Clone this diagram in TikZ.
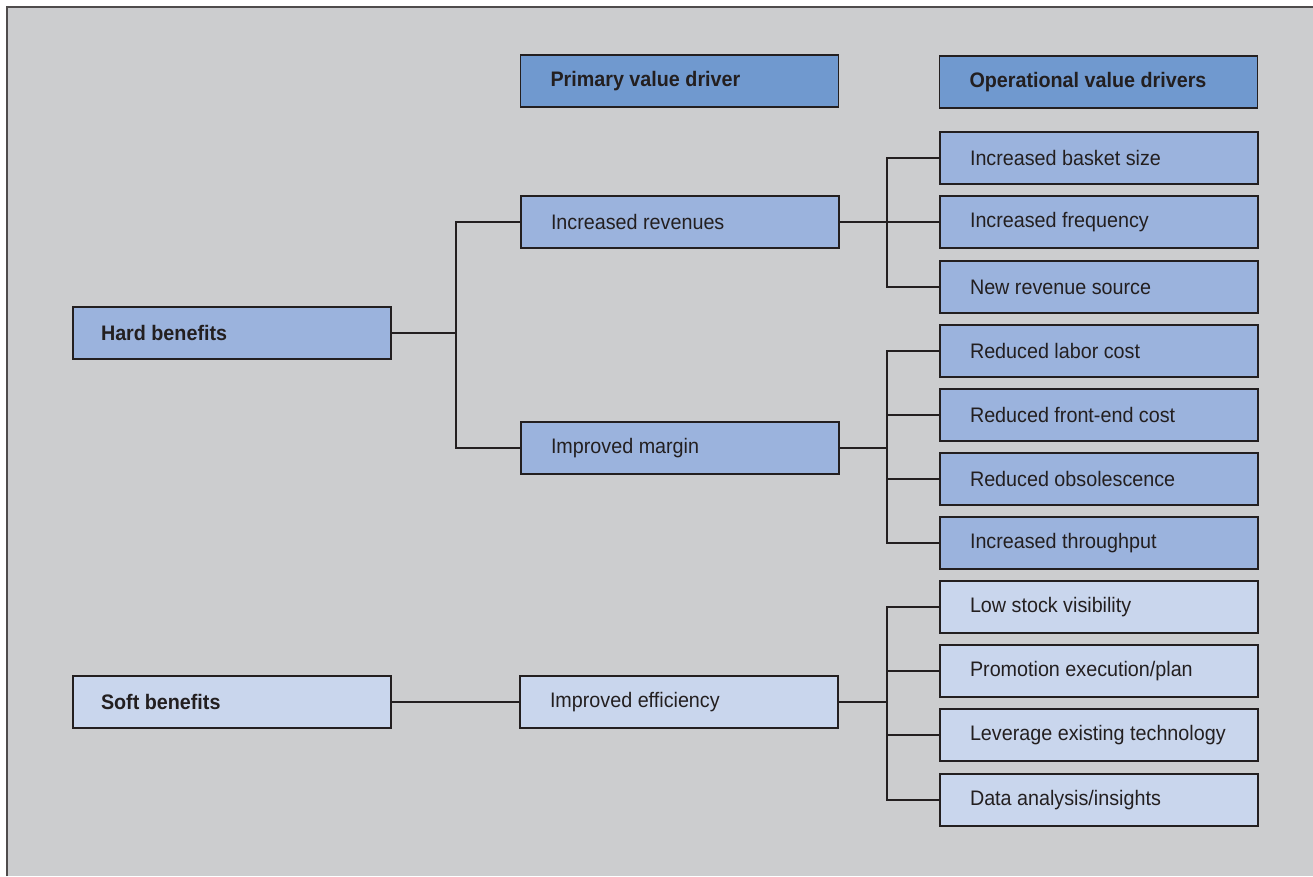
\documentclass[tikz,border=0pt]{standalone}
\usepackage{fontspec}
\setmainfont[FakeStretch=0.94]{Liberation Sans}
\definecolor{bg}{HTML}{CCCDCF}
\definecolor{hdr}{HTML}{7099CF}
\definecolor{hard}{HTML}{9BB3DD}
\definecolor{soft}{HTML}{C9D6ED}
\definecolor{ink}{HTML}{231F20}
\tikzset{
  box/.style={draw=ink, line width=1.2pt, minimum width=318pt, minimum height=52pt, inner xsep=30pt, inner ysep=0pt, text=ink, font=\fontsize{21}{25}\selectfont},
  hdrbox/.style={box, fill=hdr, font=\fontsize{21}{25}\selectfont\bfseries},
  hardbox/.style={box, fill=hard},
  softbox/.style={box, fill=soft},
  conn/.style={draw=ink, line width=1.1pt}
}
\newcommand{\lt}[1]{\makebox[258pt][l]{#1}}
\begin{document}
\begin{tikzpicture}[x=1pt,y=-1pt]
\useasboundingbox (0,0) rectangle (1313,876);
\fill[white] (0,0) rectangle (1313,876);
\fill[bg] (7,7) rectangle (1313,876);
\draw[ink!80, line width=2pt] (7,876) -- (7,7) -- (1313,7);
% headers
\node[hdrbox] (ph) at (679.5,81) {\lt{Primary value driver}};
\node[hdrbox] (oh) at (1098.5,82) {\lt{Operational value drivers}};
% left
\node[hardbox, inner xsep=28pt, font=\fontsize{21}{25}\selectfont\bfseries] (hb) at (232,333) {\makebox[262pt][l]{Hard benefits}};
\node[softbox, inner xsep=28pt, font=\fontsize{21}{25}\selectfont\bfseries] (sb) at (232,702) {\makebox[262pt][l]{Soft benefits}};
% middle
\node[hardbox] (rev) at (680,222) {\lt{Increased revenues}};
\node[hardbox] (mar) at (680,448) {\lt{Improved margin}};
\node[softbox] (eff) at (679,702) {\lt{Improved efficiency}};
% right
\node[hardbox] (r1) at (1099,158) {\lt{Increased basket size}};
\node[hardbox] (r2) at (1099,222) {\lt{Increased frequency}};
\node[hardbox] (r3) at (1099,287) {\lt{New revenue source}};
\node[hardbox] (r4) at (1099,351) {\lt{Reduced labor cost}};
\node[hardbox] (r5) at (1099,415) {\lt{Reduced front-end cost}};
\node[hardbox] (r6) at (1099,479) {\lt{Reduced obsolescence}};
\node[hardbox] (r7) at (1099,543) {\lt{Increased throughput}};
\node[softbox] (r8) at (1099,607) {\lt{Low stock visibility}};
\node[softbox] (r9) at (1099,671) {\lt{Promotion execution/plan}};
\node[softbox] (r10) at (1099,735) {\lt{Leverage existing technology}};
\node[softbox] (r11) at (1099,800) {\lt{Data analysis/insights}};
% junction coordinates
\coordinate (j1) at (456,0);
\coordinate (j2) at (887,0);
% connectors
\draw[conn] (hb.east) -- (hb.east -| j1);
\draw[conn] (hb.east -| j1) |- (rev.west);
\draw[conn] (hb.east -| j1) |- (mar.west);
\draw[conn] (sb.east) -- (eff.west);
\draw[conn] (rev.east) -- (rev.east -| j2);
\foreach \n in {r1,r2,r3} \draw[conn] (rev.east -| j2) |- (\n.west);
\draw[conn] (mar.east) -- (mar.east -| j2);
\foreach \n in {r4,r5,r6,r7} \draw[conn] (mar.east -| j2) |- (\n.west);
\draw[conn] (eff.east) -- (eff.east -| j2);
\foreach \n in {r8,r9,r10,r11} \draw[conn] (eff.east -| j2) |- (\n.west);
\end{tikzpicture}
\end{document}
